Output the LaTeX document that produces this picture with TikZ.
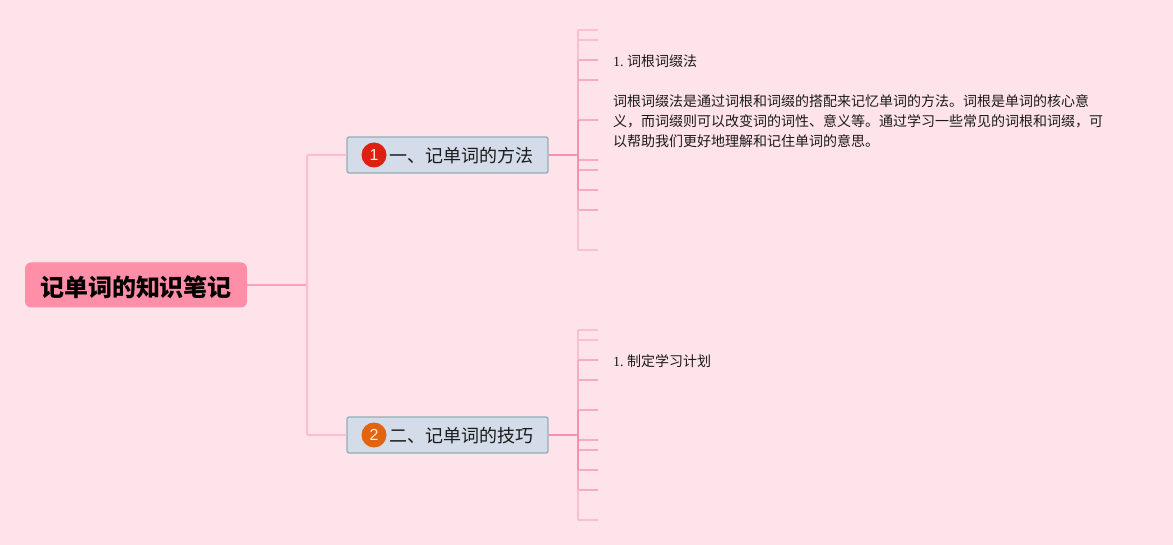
\documentclass[tikz,border=0pt]{standalone}
\usepackage{fontspec}
\setmainfont{Liberation Serif}
\newfontfamily\cjk{Noto Sans CJK SC}
\newfontfamily\badgefont{Liberation Sans}
\usepackage{tikz}
\usetikzlibrary{shapes.geometric}
\definecolor{paper}{HTML}{FEE3EB}
\definecolor{rootpink}{HTML}{FF8FA8}
\definecolor{boxfill}{HTML}{D3DCE8}
\definecolor{boxedge}{HTML}{93AEB2}
\definecolor{linkfar}{HTML}{FAC0D2}
\definecolor{linkmid}{HTML}{F8AAC3}
\definecolor{linknear}{HTML}{F590B0}
\definecolor{rootlink}{HTML}{FD9FB9}
\definecolor{badgered}{HTML}{DD2010}
\definecolor{badgeorange}{HTML}{E2640F}
\definecolor{ink}{HTML}{1A1A1A}
\tikzstyle{root} = [rectangle, rounded corners=6pt, minimum width=222pt, minimum height=45pt, text centered, fill=rootpink, font=\cjk\bfseries\fontsize{24}{24}\selectfont]
\tikzstyle{branch} = [rectangle, rounded corners=2pt, minimum width=201pt, minimum height=36pt, inner sep=0pt, draw=boxedge, line width=1.3pt, fill=boxfill, font=\cjk\fontsize{18}{18}\selectfont, text=ink]
\tikzstyle{badge} = [circle, minimum size=25pt, inner sep=0pt, text=white!85!orange, font=\badgefont\fontsize{16}{16}\selectfont]
\tikzstyle{note} = [anchor=west, inner sep=0pt, align=left, text=ink, font=\fontsize{14}{20}\selectfont]
\tikzstyle{link} = [line width=2pt]
\tikzstyle{tick} = [line width=2pt]

\begin{document}
\begin{tikzpicture}[x=1pt, y=-1pt]
        \useasboundingbox [fill=paper] (0,0) rectangle (1173,545);

        \node (jishu) [root] at (136,285) {\raisebox{-2pt}[\height][\depth]{记单词的知识笔记}};
        \node (fangfa) [branch] at (447.5,155) {\hspace*{42pt}\raisebox{-1pt}[\height][\depth]{一、记单词的方法}\hspace*{15pt}};
        \node (jiqiao) [branch] at (447.5,435) {\hspace*{42pt}\raisebox{-1pt}[\height][\depth]{二、记单词的技巧}\hspace*{15pt}};
        \node (badge1) [badge, fill=badgered] at (374,155) {1};
        \node (badge2) [badge, fill=badgeorange] at (374,435) {2};

        \coordinate (trunk) at (307,285);
        \coordinate (fork1) at (578,155);
        \coordinate (fork2) at (578,435);

        \draw [link, rootlink] (jishu.east) -- (trunk);
        \draw [link, linkfar, rounded corners=1pt] (trunk) |- (fangfa.west);
        \draw [link, linkfar, rounded corners=1pt] (trunk) |- (jiqiao.west);
        \draw [link, linknear] (fangfa.east) -- (fork1);
        \draw [link, linknear] (jiqiao.east) -- (fork2);

        \foreach \n/\ty/\shade in {1/30/linkfar, 2/40/linkfar, 3/60/linkmid, 4/80/linkmid, 5/120/linkmid, 6/160/linkmid, 7/170/linkmid, 8/190/linkmid, 9/210/linkmid, 10/250/linkfar} {
            \coordinate (fa\n) at (598,\ty);
            \draw [tick, \shade] (fork1 |- fa\n) -- (fa\n);
        }
        \foreach \n/\ty/\shade in {1/330/linkfar, 2/340/linkfar, 3/360/linkmid, 4/380/linkmid, 5/410/linkmid, 6/440/linkmid, 7/450/linkmid, 8/470/linkmid, 9/490/linkmid, 10/520/linkfar} {
            \coordinate (qiao\n) at (598,\ty);
            \draw [tick, \shade] (fork2 |- qiao\n) -- (qiao\n);
        }

        \draw [link, linkfar] (fork1 |- fa1) -- (fork1 |- fa10);
        \draw [link, linkmid] (fork1 |- fa3) -- (fork1 |- fa9);
        \draw [link, linknear] (fork1 |- fa5) -- (fork1 |- fa8);
        \draw [link, linkfar] (fork2 |- qiao1) -- (fork2 |- qiao10);
        \draw [link, linkmid] (fork2 |- qiao3) -- (fork2 |- qiao9);
        \draw [link, linknear] (fork2 |- qiao5) -- (fork2 |- qiao8);

        \node (title1) [note] at (613,61) {1.\hspace{3.5pt}{\cjk 词根词缀法}};
        \node (body1) [note, anchor=north west] at (613,94) {\cjk 词根词缀法是通过词根和词缀的搭配来记忆单词的方法。词根是单词的核心意\\\cjk 义，而词缀则可以改变词的词性、意义等。通过学习一些常见的词根和词缀，可\\\cjk 以帮助我们更好地理解和记住单词的意思。};
        \node (title2) [note] at (613,361) {1.\hspace{3.5pt}{\cjk 制定学习计划}};
    \end{tikzpicture}
\end{document}
